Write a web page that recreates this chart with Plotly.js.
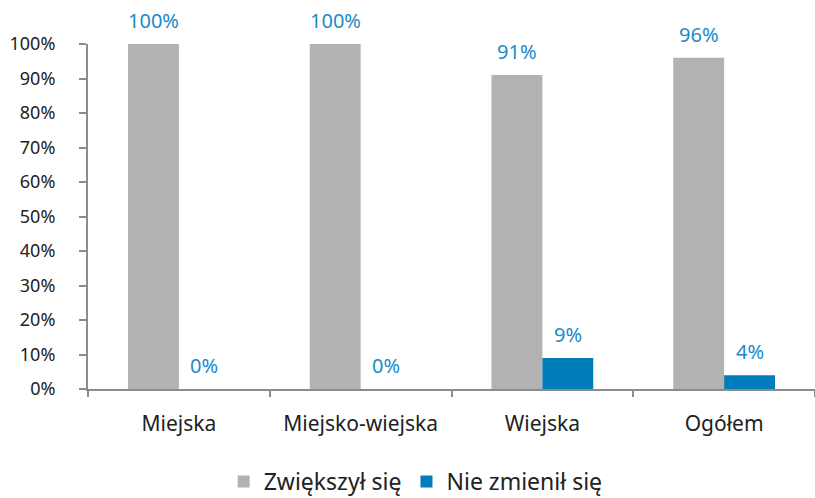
<!DOCTYPE html>
<html>
<head>
<meta charset="utf-8">
<script src="https://cdn.plot.ly/plotly-3.0.1.min.js"></script>
<style>html,body{margin:0;padding:0;background:#fff}#chart{width:815px;height:498px}</style>
</head>
<body>
<div id="chart"></div>
<script>
const categories = ["Miejska", "Miejsko-wiejska", "Wiejska", "Ogółem"];
const seriesNames = ["Zwiększył się", "Nie zmienił się"];
const increased = [100, 100, 91, 96];
const unchanged = [0, 0, 9, 4];
const yTickVals = [0, 10, 20, 30, 40, 50, 60, 70, 80, 90, 100];
const yTickText = ["0%", "10%", "20%", "30%", "40%", "50%", "60%", "70%", "80%", "90%", "100%"];

const FONT = "Noto Sans, Open Sans, sans-serif";
const GRAY = "#b2b2b2";
const BLUE = "#007dba";
const LABEL = "#1a8bcb";
const AXIS = "#8c8c8c";

const traces = [
  {type: "bar", name: seriesNames[0], x: categories, y: increased, marker: {color: GRAY}, hoverinfo: "none"},
  {type: "bar", name: seriesNames[1], x: categories, y: unchanged, marker: {color: BLUE}, hoverinfo: "none"}
];

const annotations = [];
[[increased, -25.5], [unchanged, 25.5]].forEach(([vals, dx]) => {
  vals.forEach((v, i) => {
    annotations.push({
      x: categories[i], y: v, xref: "x", yref: "y",
      text: v + "%", showarrow: false, xshift: dx, yshift: 8,
      yanchor: "bottom", xanchor: "center",
      font: {family: FONT, size: 20, color: LABEL}
    });
  });
});

const layout = {
  width: 815, height: 498,
  margin: {l: 88, r: 0, t: 44, b: 109, autoexpand: false},
  paper_bgcolor: "#fff", plot_bgcolor: "#fff",
  barmode: "group", bargap: 0.44, bargroupgap: 0,
  font: {family: FONT, size: 18, color: "#222"},
  showlegend: true,
  legend: {
    orientation: "h", xref: "container", yref: "paper",
    x: 0.51, xanchor: "center", y: -0.268, yanchor: "middle",
    font: {family: FONT, size: 23, color: "#222"},
    itemwidth: 30, traceorder: "normal", tracegroupgap: 0
  },
  xaxis: {
    type: "category", showgrid: false, zeroline: false,
    showline: true, linecolor: AXIS, linewidth: 2,
    ticks: "outside", tickson: "boundaries", ticklen: 6, tickwidth: 2, tickcolor: AXIS,
    ticklabelstandoff: 15,
    tickfont: {family: FONT, size: 21, color: "#222"}
  },
  yaxis: {
    range: [0, 100], showgrid: false, zeroline: false,
    showline: true, linecolor: AXIS, linewidth: 2,
    ticks: "outside", ticklen: 7, tickwidth: 2, tickcolor: AXIS,
    tickvals: yTickVals, ticktext: yTickText,
    ticklabelstandoff: 20,
    tickfont: {family: FONT, size: 18, color: "#222"}
  },
  annotations: annotations
};

Plotly.newPlot("chart", traces, layout, {displayModeBar: false, staticPlot: true});
</script>
</body>
</html>
